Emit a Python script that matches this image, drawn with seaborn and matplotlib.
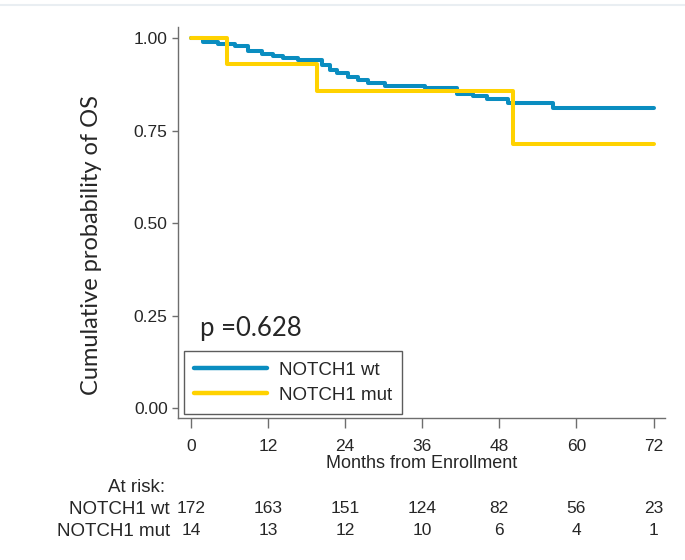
import numpy as np
import pandas as pd
import matplotlib
matplotlib.use("Agg")
import matplotlib.pyplot as plt
import seaborn as sns
from matplotlib.lines import Line2D

# ---- data ----
wt_months = [0, 1.9, 4.2, 6.9, 8.9, 11.1, 12.8, 14.3, 16.7, 20.4, 21.7, 22.8,
             24.5, 26.0, 27.6, 30.2, 36.4, 41.4, 43.9, 46.1, 49.4, 56.3, 72]
wt_surv = [1.0, 0.991, 0.984, 0.979, 0.966, 0.958, 0.951, 0.947, 0.942, 0.927,
           0.915, 0.906, 0.894, 0.886, 0.879, 0.871, 0.866, 0.850, 0.844, 0.836,
           0.825, 0.812, 0.812]
mut_months = [0, 5.6, 19.6, 50.2, 72]
mut_surv = [1.0, 0.929, 0.857, 0.714, 0.714]

groups = ["NOTCH1 wt", "NOTCH1 mut"]
colors = ["#0A8DC0", "#FFD200"]
xticks = [0, 12, 24, 36, 48, 60, 72]
yticks = [0.0, 0.25, 0.50, 0.75, 1.00]
risk_wt = [172, 163, 151, 124, 82, 56, 23]
risk_mut = [14, 13, 12, 10, 6, 4, 1]
p_text = "p =0.628"

df = pd.concat([
    pd.DataFrame({"month": wt_months, "surv": wt_surv, "group": groups[0]}),
    pd.DataFrame({"month": mut_months, "surv": mut_surv, "group": groups[1]}),
], ignore_index=True)

sns.set_style("white")
plt.rcParams["font.family"] = ["Liberation Sans", "DejaVu Sans"]

fig = plt.figure(figsize=(6.85, 5.6), dpi=100)
ax = fig.add_axes([0.260, 0.2536, 0.711, 0.698])

sns.lineplot(data=df, x="month", y="surv", hue="group", hue_order=groups,
             palette=colors, drawstyle="steps-post", estimator=None,
             linewidth=2.9, ax=ax, legend=False)

ax.set_xlim(-2.0, 73.8)
ax.set_ylim(-0.027, 1.03)
ax.set_xticks(xticks)
ax.set_xticklabels([str(t) for t in xticks])
ax.set_yticks(yticks)
ax.set_yticklabels([f"{t:.2f}" for t in yticks])

for s in ["top", "right"]:
    ax.spines[s].set_visible(False)
for s in ["left", "bottom"]:
    ax.spines[s].set_color("#6e6e6e")
    ax.spines[s].set_linewidth(1.0)

ax.tick_params(axis="x", direction="out", length=7.5, width=1.0, color="#6e6e6e",
               labelsize=12.5, pad=7.5, bottom=True)
ax.tick_params(axis="y", direction="out", length=4.5, width=1.0, color="#6e6e6e",
               labelsize=12.5, pad=3, left=True)

ax.set_xlabel("Months from Enrollment", fontsize=13, labelpad=1)
ax.set_ylabel("Cumulative probability of OS", fontsize=17,
              family=["Lato", "DejaVu Sans"])
ax.yaxis.set_label_coords((102 - 178) / 487, (418 - 245) / 391)

ax.text(1.4, 0.216, p_text, fontsize=18.5, va="center", ha="left",
        family=["Lato", "DejaVu Sans"])

handles = [Line2D([0], [0], color=c, lw=3.2) for c in colors]
leg = ax.legend(handles, groups, loc="lower left", bbox_to_anchor=(0.012, 0.010),
                fontsize=13.5, frameon=True, fancybox=False, handlelength=3.9,
                handletextpad=0.6, borderpad=0.55, labelspacing=0.42,
                borderaxespad=0)
leg.get_frame().set_edgecolor("#333333")
leg.get_frame().set_linewidth(1.0)

# at-risk table
trans = ax.get_xaxis_transform()
fig.text(165 / 685, 1 - 487 / 560, "At risk:", ha="right", va="center", fontsize=13.5)
fig.text(170 / 685, 1 - 509 / 560, groups[0], ha="right", va="center", fontsize=13.5)
fig.text(170 / 685, 1 - 531 / 560, groups[1], ha="right", va="center", fontsize=13.5)
for x, a, b in zip(xticks, risk_wt, risk_mut):
    ax.text(x, (418 - 509) / 391, str(a), transform=trans, ha="center", va="center",
            fontsize=12.5, clip_on=False)
    ax.text(x, (418 - 531) / 391, str(b), transform=trans, ha="center", va="center",
            fontsize=12.5, clip_on=False)

fig.add_artist(Line2D([0, 1], [1 - 5 / 560, 1 - 5 / 560], color="#e9eef2",
                      lw=1.5, transform=fig.transFigure))

fig.savefig("out.png", dpi=100)
